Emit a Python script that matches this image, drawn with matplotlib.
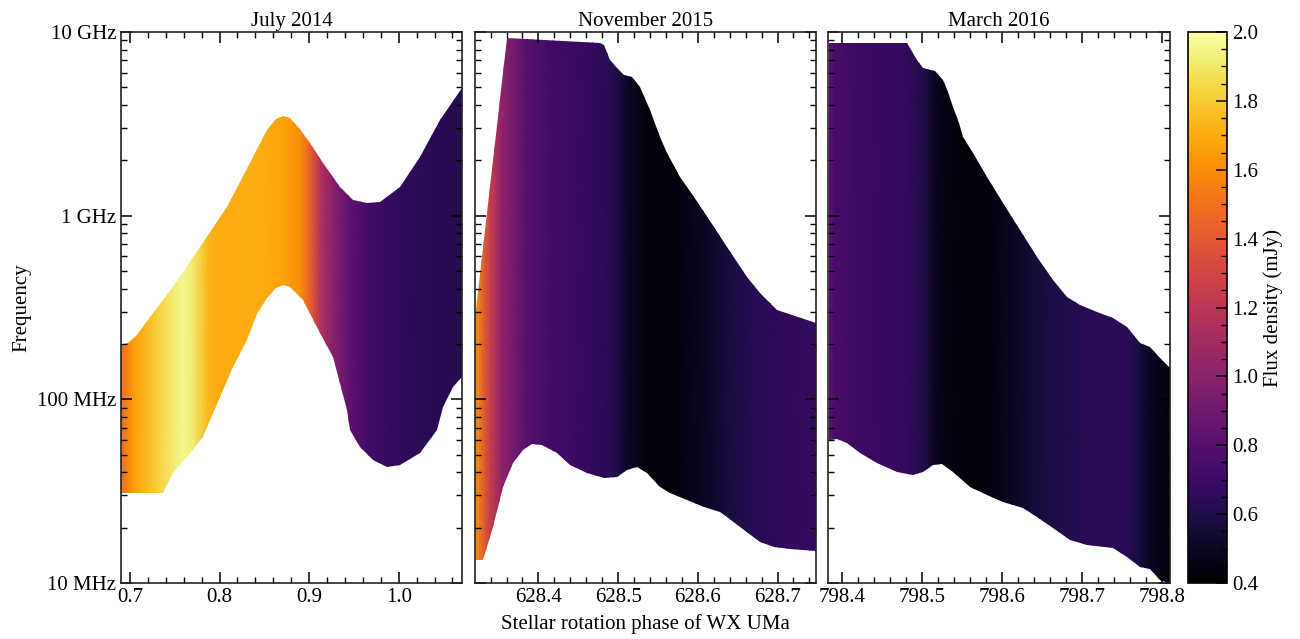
import numpy as np
import matplotlib
matplotlib.use("Agg")
import matplotlib.pyplot as plt
from matplotlib.patches import Polygon
from matplotlib.colors import Normalize
from matplotlib.ticker import MultipleLocator, LogLocator, FixedLocator, FixedFormatter, NullFormatter, FormatStrFormatter

plt.rcParams['font.family'] = ['Liberation Serif', 'DejaVu Serif']
plt.rcParams['font.size'] = 15

# ---- July 2014 ----
jul_up_phase = [0.690, 0.698, 0.708, 0.7223, 0.748, 0.778, 0.8084, 0.8374, 0.853, 0.863, 0.871, 0.879,
                0.889, 0.901, 0.9156, 0.935, 0.949, 0.965, 0.979, 1.002, 1.024, 1.0464, 1.071]
jul_up_mhz = [198, 203, 224, 281, 409, 676, 1114, 2089, 2931, 3380, 3491, 3400,
              3000, 2489, 1936, 1432, 1219, 1172, 1189, 1432, 2089, 3319, 4955]
jul_lo_phase = [0.690, 0.7369, 0.748, 0.7637, 0.7816, 0.7894, 0.8006, 0.815, 0.8307, 0.842, 0.853,
                0.863, 0.871, 0.879, 0.8933, 0.9123, 0.9268, 0.9425, 0.946, 0.957, 0.9715, 0.987,
                1.0017, 1.024, 1.043, 1.0497, 1.061, 1.071]
jul_lo_mhz = [30.9, 30.9, 39.7, 48.5, 62.4, 77.3, 103, 150, 210, 290, 356,
              405, 420, 410, 347, 230, 170, 87.5, 68.1, 55.1, 46.8, 42.9,
              44.0, 51.0, 68.1, 91.0, 117, 132]
jul_flux_phase = [0.690, 0.705, 0.727, 0.758, 0.769, 0.787, 0.800, 0.840, 0.870, 0.890, 0.900,
                  0.912, 0.926, 0.944, 0.966, 0.999, 1.037, 1.071]
jul_flux = [1.48, 1.66, 1.80, 1.96, 1.92, 1.74, 1.70, 1.71, 1.67, 1.60, 1.45,
            1.18, 1.00, 0.85, 0.72, 0.66, 0.63, 0.62]

# ---- November 2015 ----
nov_up_phase = [628.3205, 628.3607, 628.4775, 628.4817, 628.490, 628.4985, 628.5068, 628.5173,
                628.5275, 628.540, 628.553, 628.5613, 628.578, 628.5947, 628.6198, 628.6367,
                628.662, 628.6785, 628.6995, 628.7485]
nov_up_mhz = [277, 9268, 8710, 8492, 7047, 6368, 5834, 5689,
              5023, 3758, 2679, 2193, 1626, 1265, 869, 676,
              463, 379, 307, 261]
nov_lo_phase = [628.3205, 628.3309, 628.3435, 628.356, 628.3686, 628.3812, 628.3917, 628.4043,
                628.4231, 628.4398, 628.4608, 628.4817, 628.4985, 628.5111, 628.5236, 628.5362,
                628.5529, 628.5655, 628.5864, 628.6073, 628.6283, 628.6367, 628.6575, 628.6785,
                628.6952, 628.7161, 628.7485]
nov_lo_mhz = [13.4, 13.4, 20.2, 33.3, 45.1, 53.1, 57.1, 56.5,
              51.0, 44.0, 39.7, 37.3, 37.8, 41.3, 42.9, 39.7,
              33.3, 30.9, 28.3, 25.9, 24.4, 22.9, 19.5, 16.7,
              15.7, 15.3, 15.0]
nov_flux_phase = [628.3205, 628.339, 628.356, 628.386, 628.418, 628.461, 628.494, 628.515,
                  628.540, 628.574, 628.607, 628.641, 628.670, 628.712, 628.749]
nov_flux = [1.62, 1.25, 1.00, 0.80, 0.72, 0.68, 0.62, 0.50,
            0.43, 0.44, 0.50, 0.58, 0.63, 0.66, 0.67]

# ---- March 2016 ----
mar_up_phase = [798.3832, 798.4813, 798.4938, 798.502, 798.5166, 798.527, 798.533, 798.5395, 798.546,
                798.552, 798.5645, 798.5813, 798.602, 798.6229, 798.6438, 798.6645, 798.6813,
                798.6979, 798.7188, 798.7395, 798.7563, 798.7729, 798.7854, 798.7979, 798.810]
mar_up_mhz = [8670, 8670, 7047, 6368, 6152, 5483, 4700, 3908, 3200,
              2679, 2193, 1626, 1172, 836, 596, 447, 361,
              327, 299, 277, 248, 203, 193, 168, 148]
mar_lo_phase = [798.3832, 798.3937, 798.4063, 798.4229, 798.4438, 798.4688, 798.4895, 798.502,
                798.5145, 798.525, 798.5395, 798.5604, 798.5813, 798.602, 798.627, 798.6438,
                798.6645, 798.6854, 798.7063, 798.7395, 798.7563, 798.7729, 798.7854, 798.7979,
                798.8083, 798.810]
mar_lo_mhz = [60.1, 60.8, 57.7, 51.0, 45.1, 40.4, 38.7, 40.4,
              44.0, 44.5, 40.4, 33.5, 30.2, 27.7, 25.5, 23.0,
              19.9, 17.2, 16.1, 15.5, 13.9, 12.3, 11.9, 10.4,
              10.0, 9.5]
mar_flux_phase = [798.383, 798.392, 798.420, 798.476, 798.504, 798.520, 798.554, 798.588,
                  798.613, 798.638, 798.671, 798.713, 798.760, 798.772, 798.785, 798.798, 798.810]
mar_flux = [0.82, 0.75, 0.70, 0.68, 0.60, 0.47, 0.42, 0.45,
            0.50, 0.55, 0.60, 0.64, 0.63, 0.58, 0.50, 0.46, 0.45]

titles = ["July 2014", "November 2015", "March 2016"]
xlims = [(0.690, 1.071), (628.3205, 628.7486), (798.383, 798.810)]
panels = [
    (jul_up_phase, jul_up_mhz, jul_lo_phase, jul_lo_mhz, jul_flux_phase, jul_flux),
    (nov_up_phase, nov_up_mhz, nov_lo_phase, nov_lo_mhz, nov_flux_phase, nov_flux),
    (mar_up_phase, mar_up_mhz, mar_lo_phase, mar_lo_mhz, mar_flux_phase, mar_flux),
]
freq_ticks = [1e7, 1e8, 1e9, 1e10]
freq_labels = ["10 MHz", "100 MHz", "1 GHz", "10 GHz"]

cmap = plt.get_cmap("inferno")
norm = Normalize(vmin=0.4, vmax=2.0)

fig = plt.figure(figsize=(13, 6.39), dpi=100)
lefts = [0.0931, 0.3654, 0.6372]
width = 0.2625
bottom, height = 0.0876, 0.8623

axes = []
for i, (up_x, up_f, lo_x, lo_f, fx, fv) in enumerate(panels):
    ax = fig.add_axes([lefts[i], bottom, width, height])
    ax.set_yscale("log")
    ax.set_ylim(1e7, 1e10)
    ax.set_xlim(*xlims[i])

    # colour strip: flux varies with phase only, stretched over the whole band
    fx = np.asarray(fx)
    X = np.vstack([fx, fx])
    Y = np.vstack([np.full_like(fx, 1e6), np.full_like(fx, 1e11)])
    C = np.vstack([fv, fv])
    mesh = ax.pcolormesh(X, Y, C, cmap=cmap, norm=norm, shading="gouraud")

    # outline of the emitting region (upper edge left->right, lower edge back)
    verts = [(x, f * 1e6) for x, f in zip(up_x, up_f)] + \
            [(x, f * 1e6) for x, f in zip(lo_x[::-1], lo_f[::-1])]
    region = Polygon(verts, closed=True, facecolor="none", edgecolor="none",
                     transform=ax.transData)
    ax.add_patch(region)
    mesh.set_clip_path(region)

    ax.set_title(titles[i], fontsize=15, pad=4)
    ax.yaxis.set_major_locator(FixedLocator(freq_ticks))
    ax.yaxis.set_minor_locator(LogLocator(base=10, subs=np.arange(2, 10), numticks=20))
    ax.yaxis.set_minor_formatter(NullFormatter())
    if i == 0:
        ax.yaxis.set_major_formatter(FixedFormatter(freq_labels))
    else:
        ax.yaxis.set_major_formatter(NullFormatter())
    ax.xaxis.set_major_locator(MultipleLocator(0.1))
    ax.xaxis.set_minor_locator(MultipleLocator(0.02))
    ax.xaxis.set_major_formatter(FormatStrFormatter("%.1f"))
    ax.tick_params(which="both", direction="in", top=True, right=True, labelsize=15)
    ax.tick_params(which="major", length=8, width=1.1)
    ax.tick_params(which="minor", length=4, width=1.0)
    for s in ax.spines.values():
        s.set_linewidth(1.2)
        s.set_color("#222222")
    axes.append(ax)

axes[0].set_ylabel("Frequency", fontsize=15)
fig.text(lefts[1] + width / 2, 0.008, "Stellar rotation phase of WX UMa", ha="center", va="bottom", fontsize=15)

cax = fig.add_axes([0.9138, bottom, 0.030, height])
sm = plt.cm.ScalarMappable(norm=norm, cmap=cmap)
cb = fig.colorbar(sm, cax=cax)
cb.set_ticks(np.arange(0.4, 2.01, 0.2))
cb.ax.yaxis.set_major_formatter(FormatStrFormatter("%.1f"))
cb.ax.yaxis.set_minor_locator(MultipleLocator(0.05))
cb.ax.tick_params(which="both", direction="in", labelsize=15)
cb.ax.tick_params(which="major", length=8, width=1.1)
cb.ax.tick_params(which="minor", length=4, width=1.0)
cb.outline.set_linewidth(1.2)
cb.set_label("Flux density (mJy)", fontsize=15)

fig.savefig("out.png", dpi=100)
